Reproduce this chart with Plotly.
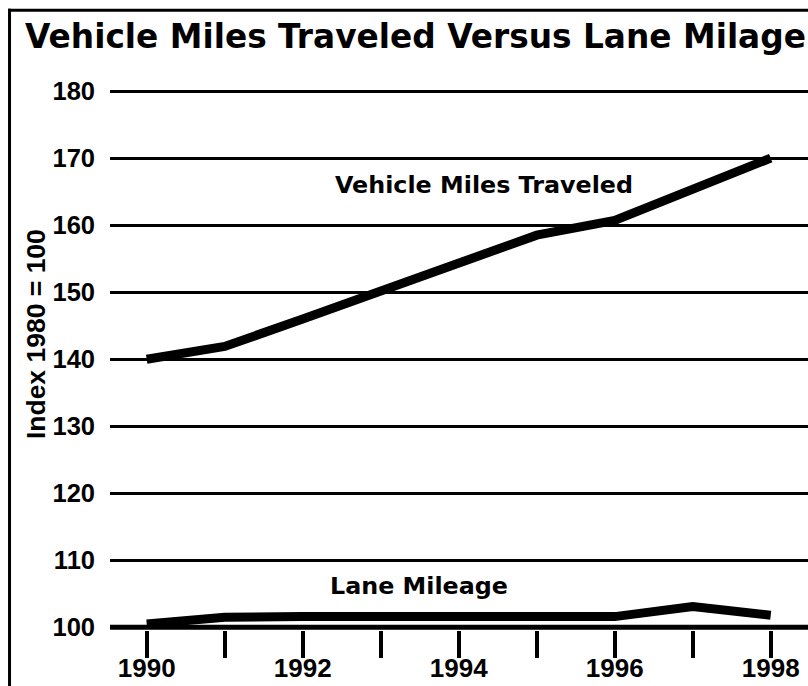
import plotly.graph_objects as go

# ---- data ----
years = [1990, 1991, 1992, 1993, 1994, 1995, 1996, 1997, 1998]
vehicle_miles = [140.0, 141.9, 146.0, 150.2, 154.3, 158.5, 160.7, 165.3, 170.0]
lane_mileage = [100.5, 101.5, 101.6, 101.55, 101.5, 101.45, 101.6, 103.1, 101.8]

x_tick_vals = [1990, 1991, 1992, 1993, 1994, 1995, 1996, 1997, 1998]
x_tick_text = ["1990", "", "1992", "", "1994", "", "1996", "", "1998"]
y_tick_vals = [100, 110, 120, 130, 140, 150, 160, 170, 180]
y_tick_text = ["100", "110", "120", "130", "140", "150", "160", "170", "180"]

title_text = "Vehicle Miles Traveled Versus Lane Milage"
y_title_text = "Index 1980 = 100"
vmt_label = "Vehicle Miles Traveled"
lane_label = "Lane Mileage"

ARIAL = "Liberation Sans, Arial, sans-serif"
DEJAVU = "DejaVu Sans, sans-serif"

fig = go.Figure()
fig.add_trace(go.Scatter(x=years, y=vehicle_miles, mode="lines",
                         line=dict(color="black", width=9), showlegend=False,
                         hoverinfo="skip"))
fig.add_trace(go.Scatter(x=years, y=lane_mileage, mode="lines",
                         line=dict(color="black", width=9), showlegend=False,
                         hoverinfo="skip"))

# base axis line at 100
fig.add_shape(type="line", xref="paper", yref="y", x0=0, x1=1, y0=100, y1=100,
              line=dict(color="black", width=5), layer="above")
# outer frame drawn as thin filled bars (left and top edges)
fig.add_shape(type="rect", xref="paper", yref="paper",
              x0=-0.1461, x1=-0.1418, y0=-0.2, y1=1.1315,
              fillcolor="black", line=dict(width=0), layer="above")
fig.add_shape(type="rect", xref="paper", yref="paper",
              x0=-0.1461, x1=1.05, y0=1.1260, y1=1.1315,
              fillcolor="black", line=dict(width=0), layer="above")

fig.add_annotation(text=title_text, xref="paper", yref="paper",
                   x=-0.1246, y=1.080, xanchor="left", yanchor="middle",
                   showarrow=False,
                   font=dict(family=DEJAVU, size=32.8, color="black", weight="bold"))
fig.add_annotation(text=y_title_text, xref="paper", yref="paper",
                   x=-0.106, y=0.539, xanchor="center", yanchor="middle",
                   textangle=-90, showarrow=False,
                   font=dict(family=ARIAL, size=26.5, color="black", weight="bold"))
fig.add_annotation(text=vmt_label, xref="x", yref="y",
                   x=1994.32, y=166.0, xanchor="center", yanchor="middle",
                   showarrow=False,
                   font=dict(family=DEJAVU, size=23.8, color="black", weight="bold"))
fig.add_annotation(text=lane_label, xref="x", yref="y",
                   x=1993.49, y=106.1, xanchor="center", yanchor="middle",
                   showarrow=False,
                   font=dict(family=DEJAVU, size=23.8, color="black", weight="bold"))

fig.update_layout(
    width=808, height=686,
    margin=dict(l=110, r=0, t=81, b=56, pad=0),
    paper_bgcolor="white", plot_bgcolor="white",
    showlegend=False,
    xaxis=dict(range=[1989.5295, 1998.478], tickvals=x_tick_vals, ticktext=x_tick_text,
               showgrid=False, zeroline=False, showline=False, automargin=False,
               ticks="outside", ticklen=27, tickwidth=4, tickcolor="black",
               ticklabelstandoff=-12,
               tickfont=dict(family=ARIAL, size=26, color="black", weight="bold")),
    yaxis=dict(range=[99.6, 181.5], tickvals=y_tick_vals, ticktext=y_tick_text,
               showgrid=True, gridcolor="black", gridwidth=3, automargin=False,
               zeroline=False, showline=False, ticks="",
               ticklabelstandoff=14,
               tickfont=dict(family=ARIAL, size=25.5, color="black", weight="bold")),
)

fig.write_html("out.html", config={"displayModeBar": False},
               post_script="document.body.style.margin='0';document.body.style.overflow='hidden';")
